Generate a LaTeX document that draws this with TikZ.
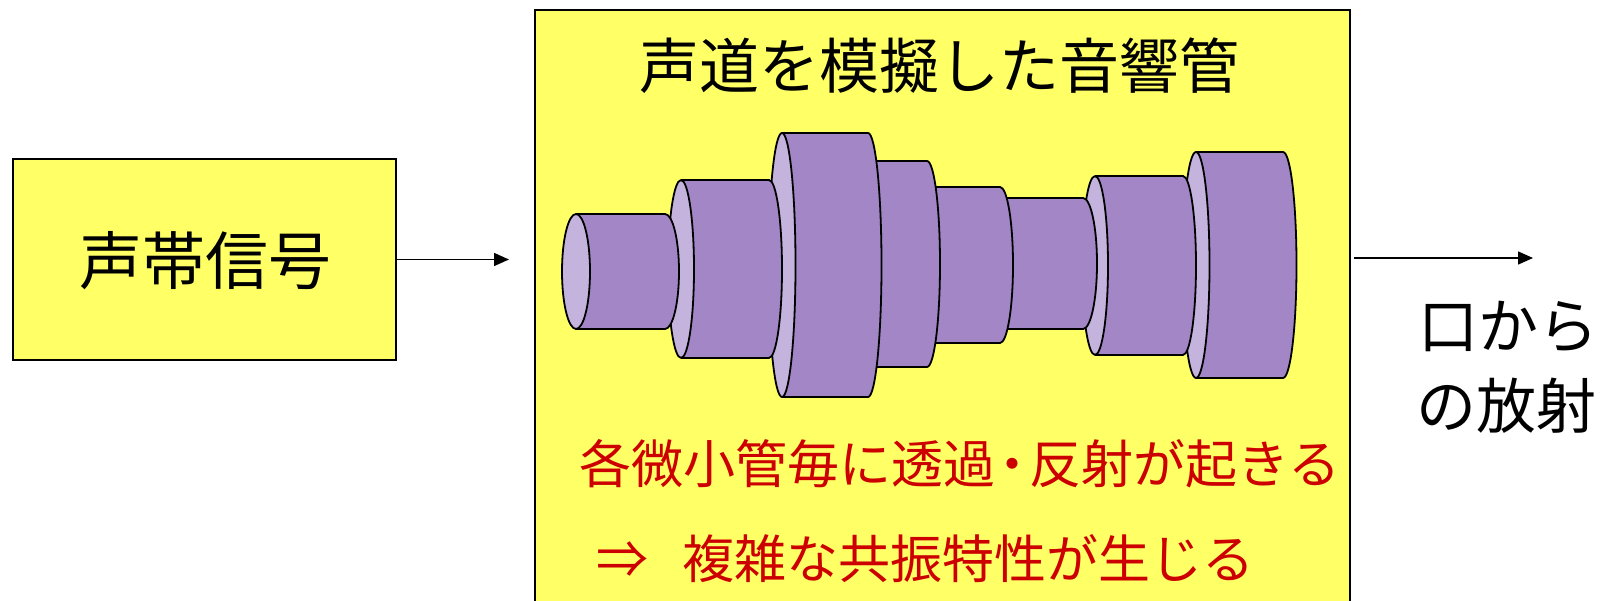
\documentclass[tikz,border=0pt]{standalone}
\usepackage{fontspec}
\setmainfont{Noto Sans CJK JP}
\usetikzlibrary{arrows.meta}
\definecolor{padyellow}{HTML}{FFFF66}
\definecolor{tubebody}{HTML}{A286C6}
\definecolor{tubeend}{HTML}{C4B3DD}
\definecolor{notered}{HTML}{CC0000}

% one tube section: #1 left x, #2 right x, #3 centre (from top), #4 half height, #5 end radius
\newcommand\tubeseg[5]{%
  \pgfmathsetmacro\yc{600-#3}%
  \filldraw[tubeline, fill=tubebody] (#1,\yc+#4) -- (#2,\yc+#4)
     arc[start angle=90, end angle=-90, x radius=#5pt, y radius=#4pt] -- (#1,\yc-#4);
  \filldraw[tubeline, fill=tubeend] (#1,\yc) ellipse[x radius=#5pt, y radius=#4pt];
}
% narrow middle dot between two words
\newcommand\narrowdot{\makebox[0.66em][c]{・}}

\tikzset{
  panel/.style={draw=black, line width=2pt, fill=padyellow, inner sep=0pt},
  tubeline/.style={draw=black, line width=1.8pt, line join=round},
  flow/.style={draw=black, line width=1.5pt, -{Triangle[length=15pt, width=13pt]}},
  bigtext/.style={font=\fontsize{60pt}{72pt}\selectfont, inner sep=0pt},
  redtext/.style={font=\fontsize{52pt}{62pt}\selectfont, text=notered, inner sep=0pt},
}

\begin{document}
\begin{tikzpicture}[x=1pt, y=1pt]
  \useasboundingbox (0,0) rectangle (1606,600);

  % source box
  \node[panel, minimum width=383pt, minimum height=201pt] (sig) at (204.5,340.5) {};
  \node[bigtext, font=\fontsize{63pt}{72pt}\selectfont, anchor=base] (sigtext) at (205,315) {声帯信号};

  % vocal tract panel (runs off the bottom edge)
  \node[panel, minimum width=815pt, minimum height=600pt] (tract) at (942.5,290) {};
  \node[bigtext, anchor=base] (title) at (939,511) {声道を模擬した音響管};

  % tube sections, drawn from the mouth end back to the glottis
  \tubeseg{1196}{1283}{265}{113}{13.5}
  \tubeseg{1095}{1183}{265.5}{89.5}{13}
  \tubeseg{990}{1083}{263.5}{65.5}{14}
  \tubeseg{915}{1000}{265}{78}{13}
  \tubeseg{860}{927}{264}{103}{13}
  \tubeseg{782}{868}{265}{132}{13.5}
  \tubeseg{681}{769}{269}{89}{13}
  \tubeseg{576}{665}{271.5}{57.5}{14}

  % notes
  \node[redtext, anchor=base west] (note1) at (579,117) {各微小管毎に透過\narrowdot 反射が起きる};
  \node[redtext, anchor=base west] (note2) at (596,22) {⇒\hspace{34pt}複雑な共振特性が生じる};

  % output label
  \node[bigtext, anchor=base west] (mouth1) at (1418,251) {口から};
  \node[bigtext, anchor=base west] (mouth2) at (1416,171) {の放射};

  % connectors
  \coordinate (inend) at (509,341);
  \coordinate (outend) at (1533,342);
  \draw[flow] (sig.east) -- (sig.east -| inend);
  \draw[flow, shorten <=3pt] (tract.east |- outend) -- (outend);
\end{tikzpicture}
\end{document}
